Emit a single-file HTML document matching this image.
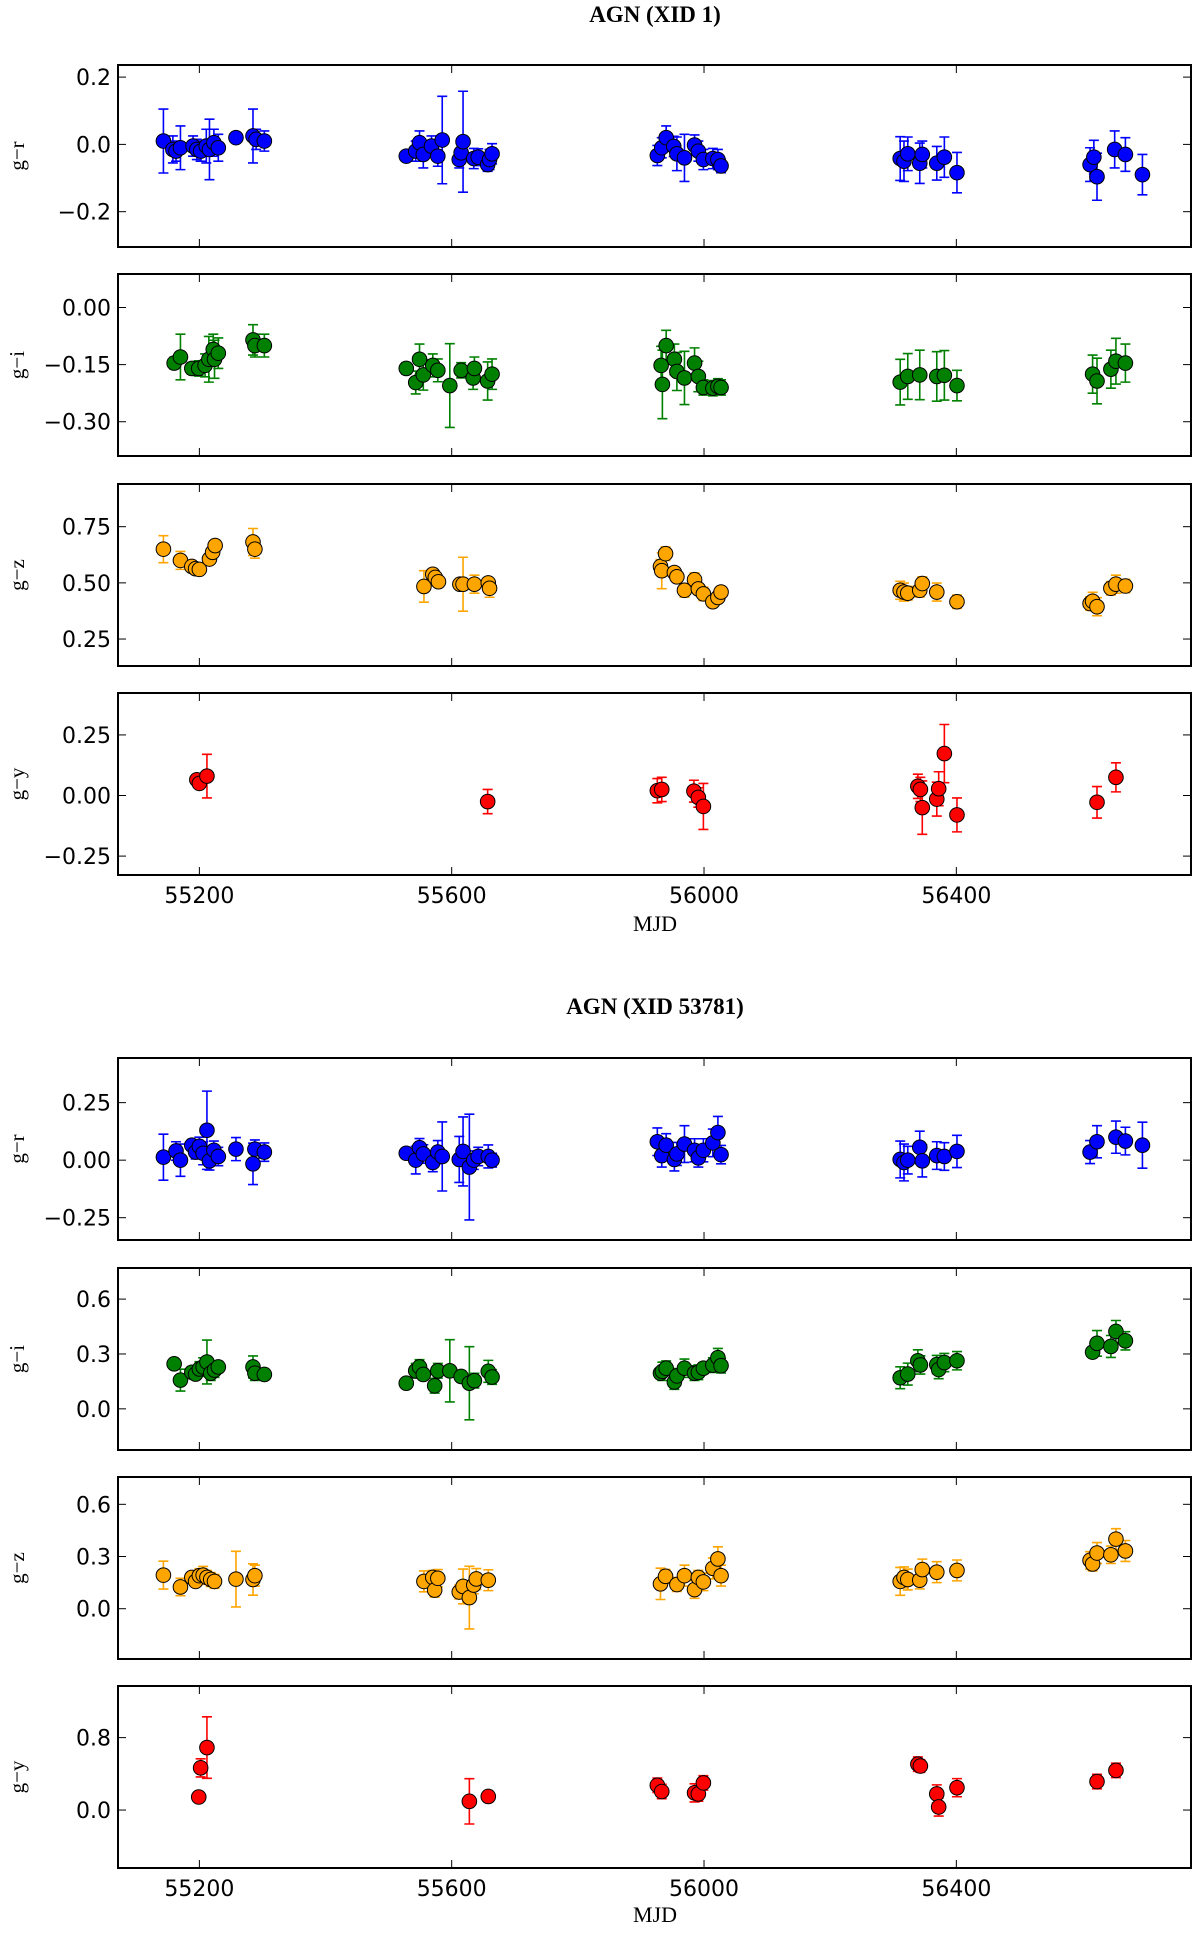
<!DOCTYPE html>
<html><head><meta charset="utf-8">
<style>
html,body{margin:0;padding:0;background:#fff;}
svg{display:block;}
</style></head>
<body>
<svg id="chart" width="1200" height="1935" viewBox="0 0 1200 1935" xmlns="http://www.w3.org/2000/svg"></svg>
<script>
// ---- Data (MJD, color value, error) per panel ----
const xTicks = [55200, 55600, 56000, 56400];
const titles = ["AGN (XID 1)", "AGN (XID 53781)"];
const panelLabels = ["g\u2212r","g\u2212i","g\u2212z","g\u2212y","g\u2212r","g\u2212i","g\u2212z","g\u2212y"];
const panelColors = ["#0000ff","#008000","#ffa500","#ff0000","#0000ff","#008000","#ffa500","#ff0000"];
const yDomains = [[-0.305,0.236],[-0.39,0.088],[0.13,0.94],[-0.328,0.423],[-0.347,0.444],[-0.225,0.77],[-0.289,0.757],[-0.64,1.37]];
const yTickVals = [[-0.2,0,0.2],[-0.3,-0.15,0],[0.25,0.5,0.75],[-0.25,0,0.25],[-0.25,0,0.25],[0,0.3,0.6],[0,0.3,0.6],[0,0.8]];
const yTickLabels = [["\u22120.2","0.0","0.2"],["\u22120.30","\u22120.15","0.00"],["0.25","0.50","0.75"],["\u22120.25","0.00","0.25"],["\u22120.25","0.00","0.25"],["0.0","0.3","0.6"],["0.0","0.3","0.6"],["0.0","0.8"]];

const p1Mjd=[55143,55158,55163,55170,55190,55196,55202,55211,55216,55223,55230,55258,55285,55290,55303,55528,55543,55549,55555,55568,55578,55585,55612,55615,55618,55635,55642,55657,55660,55664,55926,55933,55940,55952,55957,55969,55985,55991,55999,56014,56022,56027,56311,56317,56323,56342,56346,56369,56381,56401,56612,56618,56623,56651,56668,56695];
const p1Val=[0.01,-0.015,-0.02,-0.01,-0.005,-0.015,-0.02,-0.005,-0.015,0.005,-0.01,0.02,0.025,0.015,0.01,-0.035,-0.02,0.005,-0.03,-0.005,-0.035,0.013,-0.045,-0.025,0.008,-0.042,-0.038,-0.06,-0.045,-0.028,-0.033,-0.01,0.02,-0.006,-0.028,-0.04,-0.002,-0.02,-0.045,-0.042,-0.045,-0.064,-0.042,-0.05,-0.028,-0.056,-0.03,-0.056,-0.038,-0.084,-0.06,-0.038,-0.096,-0.015,-0.03,-0.09];
const p1Err=[0.095,0.04,0.03,0.065,0.03,0.03,0.03,0.05,0.09,0.04,0.04,0.01,0.08,0.03,0.03,0.01,0.03,0.035,0.04,0.03,0.03,0.13,0.025,0.03,0.15,0.03,0.025,0.02,0.03,0.03,0.03,0.03,0.035,0.03,0.05,0.07,0.03,0.03,0.03,0.03,0.03,0.02,0.065,0.06,0.05,0.06,0.04,0.05,0.06,0.06,0.05,0.05,0.07,0.055,0.05,0.06];

const p2Mjd=[55160,55170,55188,55199,55209,55215,55222,55224,55230,55285,55288,55303,55528,55543,55549,55555,55570,55578,55597,55615,55634,55636,55657,55664,55932,55934,55940,55953,55957,55969,55985,55991,55999,56014,56022,56027,56311,56323,56342,56369,56381,56401,56616,56623,56645,56653,56668];
const p2Val=[-0.146,-0.13,-0.16,-0.16,-0.152,-0.136,-0.11,-0.136,-0.12,-0.085,-0.1,-0.1,-0.16,-0.197,-0.136,-0.177,-0.152,-0.165,-0.205,-0.165,-0.185,-0.16,-0.193,-0.175,-0.152,-0.202,-0.1,-0.136,-0.168,-0.185,-0.146,-0.181,-0.21,-0.212,-0.207,-0.21,-0.196,-0.181,-0.177,-0.181,-0.178,-0.205,-0.175,-0.193,-0.162,-0.141,-0.146];
const p2Err=[0.015,0.06,0.015,0.02,0.03,0.06,0.04,0.05,0.04,0.04,0.03,0.03,0.015,0.03,0.04,0.04,0.03,0.03,0.11,0.02,0.03,0.03,0.05,0.04,0.05,0.09,0.04,0.04,0.05,0.07,0.04,0.04,0.02,0.02,0.02,0.02,0.06,0.06,0.065,0.065,0.065,0.04,0.05,0.06,0.05,0.06,0.05];

const p3Mjd=[55143,55170,55188,55194,55200,55216,55221,55225,55285,55288,55556,55570,55574,55579,55613,55618,55636,55658,55660,55931,55933,55939,55953,55957,55969,55985,55991,55999,56014,56022,56027,56311,56317,56323,56342,56346,56369,56401,56612,56616,56623,56645,56653,56668];
const p3Val=[0.65,0.6,0.573,0.563,0.56,0.606,0.636,0.666,0.682,0.65,0.484,0.538,0.524,0.505,0.494,0.494,0.494,0.5,0.476,0.573,0.554,0.63,0.546,0.527,0.467,0.514,0.473,0.451,0.416,0.435,0.459,0.467,0.459,0.454,0.467,0.497,0.459,0.416,0.408,0.418,0.394,0.476,0.494,0.486];
const p3Err=[0.06,0.04,0.02,0.02,0.02,0.02,0.02,0.02,0.06,0.04,0.07,0.02,0.02,0.02,0.02,0.12,0.04,0.02,0.04,0.03,0.08,0.03,0.02,0.02,0.03,0.03,0.02,0.03,0.02,0.02,0.02,0.04,0.04,0.03,0.03,0.03,0.04,0.03,0.03,0.04,0.04,0.03,0.04,0.03];

const p4Mjd=[55196,55200,55212,55657,55926,55933,55984,55991,55999,56339,56343,56346,56369,56372,56381,56401,56623,56653];
const p4Val=[0.065,0.05,0.08,-0.025,0.02,0.025,0.018,-0.008,-0.045,0.038,0.025,-0.05,-0.015,0.028,0.173,-0.08,-0.028,0.075];
const p4Err=[0.01,0.01,0.09,0.05,0.05,0.05,0.045,0.04,0.095,0.05,0.05,0.11,0.07,0.07,0.12,0.07,0.065,0.06];

const p5Mjd=[55143,55163,55170,55188,55194,55200,55206,55212,55216,55223,55230,55258,55285,55288,55303,55528,55543,55549,55555,55570,55578,55585,55612,55618,55628,55635,55642,55658,55664,55926,55933,55940,55953,55957,55969,55985,55991,55999,56014,56022,56027,56311,56317,56323,56342,56346,56369,56381,56401,56612,56623,56653,56668,56695];
const p5Val=[0.013,0.04,0.0,0.065,0.035,0.06,0.03,0.13,-0.003,0.043,0.016,0.048,-0.016,0.048,0.035,0.03,0.0,0.054,0.027,-0.01,0.035,0.016,0.003,0.038,-0.03,0.0,0.016,0.016,0.0,0.08,0.02,0.065,0.003,0.027,0.07,0.043,0.01,0.043,0.075,0.12,0.024,0.003,-0.01,0.0,0.056,-0.003,0.02,0.016,0.038,0.035,0.08,0.1,0.083,0.065];
const p5Err=[0.1,0.04,0.07,0.02,0.03,0.04,0.05,0.17,0.04,0.04,0.04,0.05,0.09,0.04,0.04,0.02,0.06,0.04,0.04,0.04,0.05,0.15,0.1,0.15,0.23,0.04,0.04,0.05,0.03,0.06,0.05,0.05,0.05,0.05,0.08,0.05,0.04,0.05,0.06,0.07,0.04,0.08,0.08,0.06,0.07,0.07,0.06,0.06,0.07,0.05,0.07,0.07,0.06,0.1];

const p6Mjd=[55160,55170,55188,55194,55200,55206,55212,55218,55224,55230,55285,55288,55303,55528,55543,55549,55555,55573,55578,55597,55615,55628,55636,55658,55664,55931,55934,55940,55953,55957,55969,55985,55991,55999,56014,56022,56027,56311,56323,56339,56343,56369,56372,56381,56401,56616,56623,56645,56653,56668];
const p6Val=[0.246,0.157,0.2,0.19,0.218,0.229,0.256,0.195,0.212,0.229,0.229,0.195,0.188,0.14,0.208,0.229,0.188,0.126,0.208,0.208,0.177,0.14,0.154,0.205,0.174,0.195,0.205,0.222,0.147,0.18,0.222,0.195,0.2,0.222,0.239,0.28,0.236,0.17,0.19,0.263,0.24,0.242,0.215,0.253,0.263,0.31,0.358,0.341,0.423,0.372];
const p6Err=[0.02,0.06,0.03,0.03,0.04,0.05,0.12,0.04,0.04,0.03,0.06,0.04,0.03,0.02,0.04,0.04,0.03,0.04,0.04,0.17,0.03,0.2,0.04,0.06,0.04,0.03,0.05,0.04,0.04,0.04,0.05,0.04,0.04,0.03,0.04,0.05,0.04,0.06,0.06,0.06,0.05,0.05,0.05,0.05,0.05,0.03,0.07,0.06,0.06,0.05];

const p7Mjd=[55143,55170,55188,55194,55200,55206,55212,55218,55224,55258,55285,55288,55556,55570,55573,55578,55612,55618,55628,55635,55639,55658,55931,55939,55957,55969,55985,55991,55999,56014,56022,56027,56311,56317,56323,56342,56346,56369,56401,56612,56616,56623,56645,56653,56668];
const p7Val=[0.193,0.125,0.18,0.157,0.19,0.193,0.18,0.168,0.157,0.17,0.168,0.19,0.157,0.18,0.107,0.175,0.096,0.128,0.064,0.136,0.171,0.164,0.143,0.186,0.139,0.19,0.11,0.18,0.154,0.232,0.286,0.19,0.157,0.18,0.168,0.164,0.225,0.21,0.22,0.278,0.257,0.32,0.31,0.4,0.332];
const p7Err=[0.08,0.05,0.03,0.03,0.04,0.05,0.04,0.04,0.04,0.16,0.09,0.06,0.06,0.04,0.04,0.05,0.04,0.1,0.18,0.05,0.06,0.06,0.09,0.04,0.04,0.06,0.05,0.04,0.05,0.06,0.07,0.06,0.08,0.06,0.06,0.05,0.06,0.06,0.06,0.05,0.04,0.06,0.05,0.06,0.06];

const p8Mjd=[55199,55202,55212,55628,55658,55926,55933,55985,55991,55999,56339,56343,56369,56372,56401,56623,56653];
const p8Val=[0.144,0.466,0.69,0.096,0.15,0.274,0.205,0.19,0.178,0.3,0.507,0.486,0.178,0.034,0.247,0.315,0.438];
const p8Err=[0.02,0.1,0.34,0.25,0.06,0.08,0.08,0.1,0.08,0.08,0.08,0.07,0.1,0.1,0.1,0.08,0.08];

const allMjd=[p1Mjd,p2Mjd,p3Mjd,p4Mjd,p5Mjd,p6Mjd,p7Mjd,p8Mjd];
const allVal=[p1Val,p2Val,p3Val,p4Val,p5Val,p6Val,p7Val,p8Val];
const allErr=[p1Err,p2Err,p3Err,p4Err,p5Err,p6Err,p7Err,p8Err];

// ---- Layout ----
const NS="http://www.w3.org/2000/svg";
const svg=document.getElementById('chart');
const L=118, R=1191, H=182;
const tops=[65,274,484,693,1058,1268,1477,1686];
const xDomain=[55071,56772];
function xScale(v){return L+(v-xDomain[0])/(xDomain[1]-xDomain[0])*(R-L);}
function mk(tag,attrs,parent){const e=document.createElementNS(NS,tag);for(const k in attrs)e.setAttribute(k,attrs[k]);(parent||svg).appendChild(e);return e;}

[[15,0],[1007,1]].forEach(([y,i])=>{
  const t=mk('text',{x:655,y:y+7,'text-anchor':'middle','font-family':'Liberation Serif, serif','font-weight':'bold','font-size':'23'});
  t.textContent=titles[i];
  
  
});

for(let p=0;p<8;p++){
  const top=tops[p], bot=top+H, dom=yDomains[p];
  const yScale=v=>bot-(v-dom[0])/(dom[1]-dom[0])*H;
  const g=mk('g',{});
  
  
  const clipId='clip'+p;
  const cp=mk('clipPath',{id:clipId},g); mk('rect',{x:L,y:top,width:R-L,height:H},cp);
  xTicks.forEach(t=>{
    const x=xScale(t);
    mk('line',{x1:x,x2:x,y1:top,y2:top+8,stroke:'#000','stroke-width':1},g);
    mk('line',{x1:x,x2:x,y1:bot,y2:bot-8,stroke:'#000','stroke-width':1},g);
  });
  yTickVals[p].forEach((t,i)=>{
    const y=yScale(t);
    mk('line',{x1:L,x2:L+8,y1:y,y2:y,stroke:'#000','stroke-width':1},g);
    mk('line',{x1:R,x2:R-8,y1:y,y2:y,stroke:'#000','stroke-width':1},g);
    const tl=mk('text',{x:L-7,y:y+8,'text-anchor':'end','font-family':'DejaVu Sans, Liberation Sans, sans-serif','font-size':'22'},g);
    tl.textContent=yTickLabels[p][i];
    
    
  });
  const yl=mk('text',{x:0,y:0,'text-anchor':'middle','font-family':'Liberation Serif, serif','font-size':'21',transform:`translate(24,${top+H/2}) rotate(-90)`},g);
  yl.textContent=panelLabels[p];
  
  
  const dg=mk('g',{'clip-path':`url(#${clipId})`},g);
  const col=panelColors[p];
  const M=allMjd[p], V=allVal[p], E=allErr[p];
  for(let i=0;i<M.length;i++){
    const x=xScale(M[i]), y1=yScale(V[i]+E[i]), y2=yScale(V[i]-E[i]);
    const eb=mk('path',{d:`M${x},${y1}V${y2}M${x-5},${y1}H${x+5}M${x-5},${y2}H${x+5}`,stroke:col,'stroke-width':1.6,fill:'none'},dg);
    
    
  }
  for(let i=0;i<M.length;i++){
    const c=mk('circle',{cx:xScale(M[i]),cy:yScale(V[i]),r:7.3,fill:col,stroke:'#000','stroke-width':1},dg);
    
    
  }
  mk('rect',{x:L,y:top,width:R-L,height:H,fill:'none',stroke:'#000','stroke-width':2},g);
}

[[895,923,0],[1888,1914,1]].forEach(([ty,my,k])=>{
  xTicks.forEach(t=>{
    const tl=mk('text',{x:xScale(t),y:ty+8,'text-anchor':'middle','font-family':'DejaVu Sans, Liberation Sans, sans-serif','font-size':'22'});
    tl.textContent=String(t);
    
    
  });
  const m=mk('text',{x:655,y:my+8,'text-anchor':'middle','font-family':'Liberation Serif, serif','font-size':'22'});
  m.textContent='MJD';
  
  
});
</script>
</body></html>
